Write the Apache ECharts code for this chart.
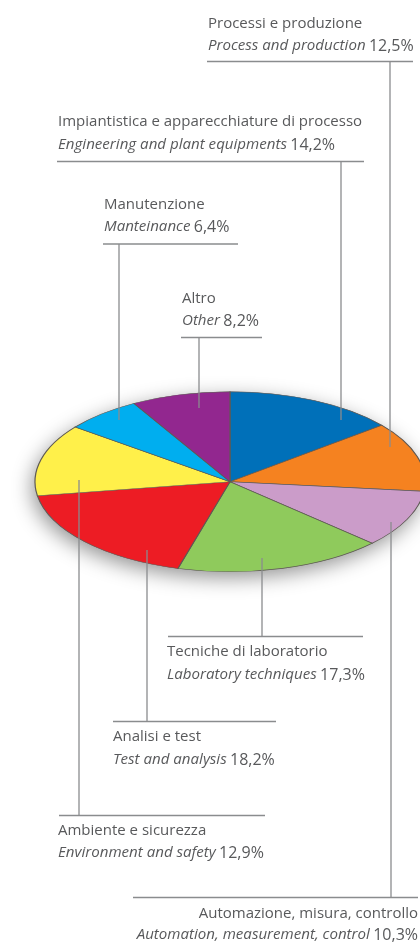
<!DOCTYPE html>
<html><head><meta charset="utf-8">
<style>html,body{margin:0;padding:0;background:#fff}#c{width:420px;height:944px}</style>
<script src="https://cdn.jsdelivr.net/npm/echarts@6/dist/echarts.min.js"></script>
</head><body><div id="c"></div>
<script>
const namesIt = ['Impiantistica e apparecchiature di processo','Processi e produzione','Automazione, misura, controllo','Tecniche di laboratorio','Analisi e test','Ambiente e sicurezza','Manutenzione','Altro'];
const namesEn = ['Engineering and plant equipments','Process and production','Automation, measurement, control','Laboratory techniques','Test and analysis','Environment and safety','Manteinance','Other'];
const values = [14.2,12.5,10.3,17.3,18.2,12.9,6.4,8.2];
const colors = ['#0070b9','#f58220','#cb9cc9','#8fca5c','#ed1c24','#fff04a','#00aeef','#92278f'];

// layout: rule y, rule x0, x1, leader x, leader inner end y, y of first text line centre, y of second, text anchor
const layout = [
 {ry:161.5,x0:57,x1:364,lx:341,ly:420,t1:122,t2:145,tx:58,al:'left'},
 {ry:61.5,x0:207,x1:413,lx:390,ly:447,t1:24,t2:46,tx:208,al:'left'},
 {ry:897.5,x0:133,x1:418,lx:391,ly:522,t1:914,t2:935,tx:418,al:'right'},
 {ry:636.5,x0:168,x1:363,lx:262,ly:558,t1:652,t2:675,tx:167,al:'left'},
 {ry:721.5,x0:113,x1:276,lx:147,ly:550,t1:737,t2:760,tx:113,al:'left'},
 {ry:815.5,x0:59,x1:265,lx:79,ly:480,t1:831,t2:853,tx:58,al:'left'},
 {ry:244,x0:103,x1:238,lx:119,ly:420,t1:205,t2:227,tx:104,al:'left'},
 {ry:337.5,x0:181,x1:262,lx:199,ly:408,t1:299,t2:321,tx:182,al:'left'}
];
const CX=230, CY=481.7, RX=195, RY=90;
const FONT='"Open Sans"', TC='#58595b', LC='#8a8c8e';
const total = values.reduce((a,b)=>a+b,0);
const pct = v => v.toFixed(1).replace('.',',')+'%';

const graphics=[];
layout.forEach((l,i)=>{
  graphics.push({type:'line',z:20,shape:{x1:l.x0,y1:l.ry,x2:l.x1,y2:l.ry},style:{stroke:LC,lineWidth:1.3}});
  graphics.push({type:'line',z:20,shape:{x1:l.lx,y1:l.ry,x2:l.lx,y2:l.ly},style:{stroke:LC,lineWidth:1.3}});
  graphics.push({type:'text',z:21,x:l.tx,y:l.t1,style:{text:namesIt[i],font:'15px '+FONT,fill:TC,align:l.al,verticalAlign:'middle'}});
  graphics.push({type:'text',z:21,x:l.tx,y:l.t2,style:{
    text:'{e|'+namesEn[i]+'} {v|'+pct(values[i])+'}',align:l.al,verticalAlign:'middle',fill:TC,
    rich:{e:{fill:TC,fontStyle:'italic',fontSize:15.1,fontFamily:'Open Sans'},
          v:{fill:TC,fontSize:16,fontFamily:'Open Sans'}}}});
});

const chart=echarts.init(document.getElementById('c'),null,{renderer:'canvas'});
chart.setOption({
  backgroundColor:'#fff',animation:false,graphic:graphics,
  series:[
   {type:'custom',coordinateSystem:'none',z:1,silent:true,data:[1],
    renderItem:()=>({type:'ellipse',shape:{cx:CX,cy:CY,rx:RX,ry:RY},
      style:{fill:'#888',shadowBlur:20,shadowColor:'rgba(0,0,0,0.42)',shadowOffsetX:-3,shadowOffsetY:6}})},
   {type:'custom',coordinateSystem:'none',z:2,silent:true,data:values,
    renderItem:(p,api)=>{
      const i=p.dataIndex;
      let before=0; for(let k=0;k<i;k++) before+=values[k];
      const a0=-Math.PI/2+before/total*2*Math.PI, a1=a0+api.value(0)/total*2*Math.PI;
      return {type:'sector',x:CX,y:CY,scaleY:RY/RX,
        shape:{cx:0,cy:0,r0:0,r:RX,startAngle:a0,endAngle:a1,clockwise:true},
        style:{fill:colors[i],stroke:'#5f5a55',lineWidth:1.2}};
    }}
  ]
});
</script></body></html>
